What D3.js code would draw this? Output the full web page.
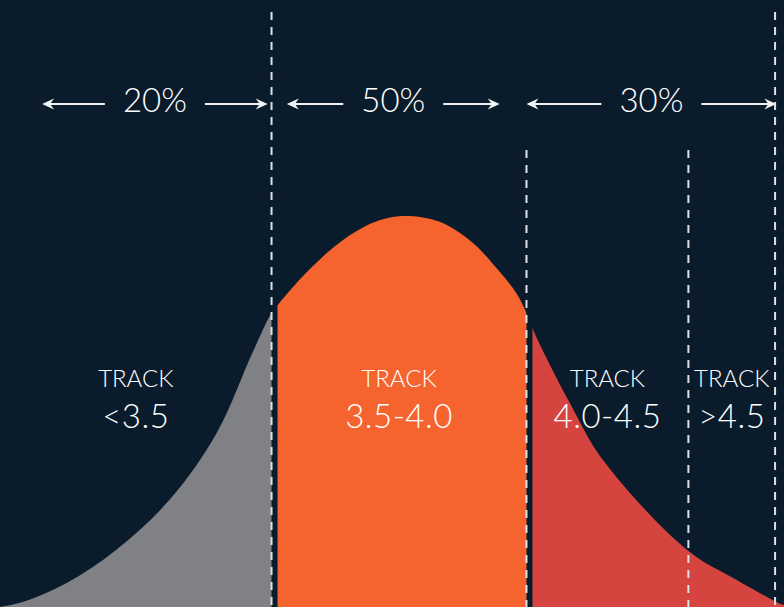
<!DOCTYPE html>
<html>
<head>
<meta charset="utf-8">
<script src="https://cdn.jsdelivr.net/npm/d3@7"></script>
<style>
    html, body { margin: 0; padding: 0; background: #0a1c2c; }
    svg { display: block; }
    text { font-family: Lato, "Open Sans", sans-serif; font-weight: 300; fill: #ffffff; }
</style>
</head>
<body>
<div id="chart"></div>
<script>
const width = 784,
    height = 607;

// bell curve (x in std units, density relative to peak)
const curveZ = [-3.15, -3.0, -2.63, -2.24, -1.82, -1.45, -1.17, -1.02, -0.96, -0.75, -0.49, -0.23, 0,
    0.30, 0.56, 0.71, 0.90, 0.98, 1.04, 1.32, 1.58, 2.24, 2.63, 2.94, 3.0];
const curveDensity = [0, 0.01, 0.061, 0.146, 0.274, 0.445, 0.650, 0.752, 0.777, 0.854, 0.931, 0.982, 1.0,
    0.985, 0.931, 0.880, 0.803, 0.752, 0.703, 0.522, 0.376, 0.146, 0.069, 0.013, 0.005];

// track cut points and labels
const cutoffs = [-1.02, 0.98, 2.25, 2.93];
const trackNames = ["<3.5", "3.5-4.0", "4.0-4.5", ">4.5"];

// share of people over each span
const shareLabels = ["20%", "50%", "30%"];
const shareFrom = [-2.82, -0.90, 0.98];
const shareTo = [-1.05, 0.77, 2.94];

const fillColors = ["#808184", "#f5632f", "#d6443f"];
const gap = 0.047;

const points = curveZ.map((z, i) => ({ z: z, d: curveDensity[i] }));

const x = d3.scaleLinear().domain([-3.15, 3.0]).range([0, width]);
const y = d3.scaleLinear().domain([0, 1]).range([height, 216]);

const svg = d3.select('#chart').append('svg')
    .attr('width', width)
    .attr('height', height);

svg.append('rect')
    .attr('width', width)
    .attr('height', height)
    .attr('fill', '#0a1c2c');

// three coloured pieces of the same curve, cut with clip paths
const segments = [
    [x.domain()[0], cutoffs[0]],
    [cutoffs[0] + gap, cutoffs[1]],
    [cutoffs[1] + gap, x.domain()[1]]
];

const defs = svg.append('defs');
segments.forEach((s, i) => {
    defs.append('clipPath')
        .attr('id', 'seg' + i)
        .append('rect')
        .attr('x', x(s[0]))
        .attr('y', 0)
        .attr('width', x(s[1]) - x(s[0]))
        .attr('height', height);
});

const area = d3.area()
    .x(d => x(d.z))
    .y0(y(0))
    .y1(d => y(d.d))
    .curve(d3.curveCatmullRom.alpha(0.5));

svg.append('g')
    .selectAll('path')
    .data(segments)
    .enter()
    .append('path')
    .attr('d', area(points))
    .attr('fill', (d, i) => fillColors[i])
    .attr('clip-path', (d, i) => 'url(#seg' + i + ')');

// dashed separators
svg.append('g')
    .selectAll('line')
    .data(cutoffs)
    .enter()
    .append('line')
    .attr('x1', d => x(d))
    .attr('x2', d => x(d))
    .attr('y1', (d, i) => (i === 0 || i === cutoffs.length - 1) ? 12 : 150)
    .attr('y2', height)
    .attr('stroke', '#dde1e6')
    .attr('stroke-width', 2)
    .attr('stroke-dasharray', '8,7');

// track labels, centred in each band
const bandEdges = [x.domain()[0]].concat(cutoffs);
const labels = svg.append('g')
    .selectAll('g')
    .data(trackNames)
    .enter()
    .append('g')
    .attr('transform', (d, i) => `translate(${(x(bandEdges[i]) + x(bandEdges[i + 1])) / 2},0)`);

labels.append('text')
    .attr('y', 387)
    .attr('text-anchor', 'middle')
    .style('font-size', '24px')
    .text('TRACK');

labels.append('text')
    .attr('y', 428)
    .attr('text-anchor', 'middle')
    .style('font-size', '33px')
    .style('letter-spacing', '0.5px')
    .text(d => d);

// percentage arrows
const arrowY = 104;
const headPath = 'M0,0 L-12,-5.5 L-8,0 L-12,5.5 Z';

shareLabels.forEach((label, i) => {
    const x0 = x(shareFrom[i]),
        x1 = x(shareTo[i]),
        mid = (x0 + x1) / 2;
    const g = svg.append('g');
    const t = g.append('text')
        .attr('x', mid)
        .attr('y', 112)
        .attr('text-anchor', 'middle')
        .style('font-size', '33px')
        .text(label);
    const half = t.node().getComputedTextLength() / 2 + 18;

    g.append('line')
        .attr('x1', x0 + 4).attr('x2', mid - half)
        .attr('y1', arrowY).attr('y2', arrowY)
        .attr('stroke', '#f2f2f2').attr('stroke-width', 2);
    g.append('line')
        .attr('x1', mid + half).attr('x2', x1 - 4)
        .attr('y1', arrowY).attr('y2', arrowY)
        .attr('stroke', '#f2f2f2').attr('stroke-width', 2);
    g.append('path')
        .attr('d', headPath)
        .attr('fill', '#f2f2f2')
        .attr('transform', `translate(${x0},${arrowY}) rotate(180)`);
    g.append('path')
        .attr('d', headPath)
        .attr('fill', '#f2f2f2')
        .attr('transform', `translate(${x1},${arrowY})`);
});
</script>
</body>
</html>
